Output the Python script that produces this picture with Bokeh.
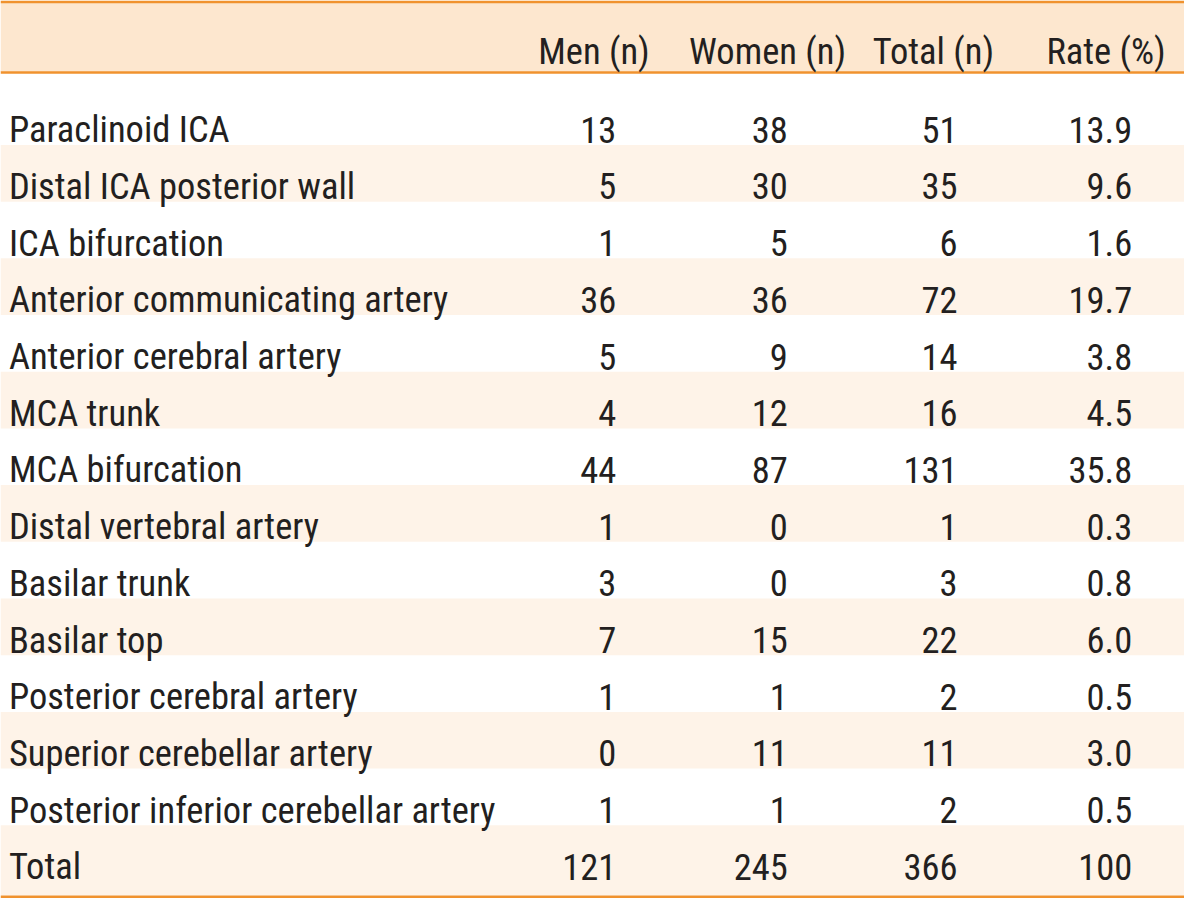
from bokeh.plotting import figure
from bokeh.models import ColumnDataSource, Range1d
from bokeh.embed import file_html
from bokeh.resources import INLINE
from bokeh.core.properties import value

# ---------------- data ----------------
sites = [
    "Paraclinoid ICA",
    "Distal ICA posterior wall",
    "ICA bifurcation",
    "Anterior communicating artery",
    "Anterior cerebral artery",
    "MCA trunk",
    "MCA bifurcation",
    "Distal vertebral artery",
    "Basilar trunk",
    "Basilar top",
    "Posterior cerebral artery",
    "Superior cerebellar artery",
    "Posterior inferior cerebellar artery",
    "Total",
]
men = [13, 5, 1, 36, 5, 4, 44, 1, 3, 7, 1, 0, 1, 121]
women = [38, 30, 5, 36, 9, 12, 87, 0, 0, 15, 1, 11, 1, 245]
total = [51, 35, 6, 72, 14, 16, 131, 1, 3, 22, 2, 11, 2, 366]
rate = [13.9, 9.6, 1.6, 19.7, 3.8, 4.5, 35.8, 0.3, 0.8, 6.0, 0.5, 3.0, 0.5, 100]
headers = ["Men (n)", "Women (n)", "Total (n)", "Rate (%)"]

# ---------------- layout / style ----------------
W, H = 1184, 898
X0, X1 = 0, 1200
Y0, Y1 = 0, 914
FONT = value("Roboto Condensed")
FSIZE = value("36.5px")
TXT = "#231F20"
ORANGE = "#F0922E"
HEAD_BG = "#FDE7CF"
STRIPE = "#FEF3E8"

row_c0 = 118.2
pitch = 57.7
cap_half = 13.4
head_base = 51.5
label_x = 8.5
num_right = [624, 798, 970, 1147]
head_right = [658, 857, 1007, 1181]

p = figure(width=W, height=H, x_range=Range1d(X0, X1), y_range=Range1d(Y1, Y0),
           x_axis_type=None, y_axis_type=None, toolbar_location=None,
           output_backend="svg", min_border=0, outline_line_color=None,
           background_fill_color="white", border_fill_color="white")
p.grid.visible = False

n = len(sites)
centers = [row_c0 + i * pitch for i in range(n)]

# striped rows
sl, sr, st, sb = [], [], [], []
for i in range(n):
    if i % 2 == 1:
        top = centers[i] - pitch / 2
        bot = centers[i] + pitch / 2 if i < n - 1 else 911.0
        sl.append(X0); sr.append(X1); st.append(top); sb.append(bot)
p.quad(left=sl, right=sr, top=st, bottom=sb, fill_color=STRIPE, line_color=None)

# header band
p.quad(left=[X0], right=[X1], top=[2.5], bottom=[72.5], fill_color=HEAD_BG, line_color=None)

# rules
p.quad(left=[X0, X0, X0], right=[X1, X1, X1], top=[0.0, 72.0, 911.0],
       bottom=[2.7, 74.5, 913.7], fill_color=ORANGE, line_color=None)

# header text
hsrc = ColumnDataSource(dict(x=head_right, y=[head_base] * 4, t=headers))
p.text(x="x", y="y", text="t", source=hsrc, text_font=FONT, text_font_size=FSIZE,
       text_align="right", text_baseline="alphabetic", text_color=TXT)

# labels
lsrc = ColumnDataSource(dict(x=[label_x] * n, y=[c + cap_half for c in centers], t=sites))
p.text(x="x", y="y", text="t", source=lsrc, text_font=FONT, text_font_size=FSIZE,
       text_align="left", text_baseline="alphabetic", text_color=TXT)

# numeric columns
def fmt_rate(v):
    return f"{v:.0f}" if v >= 100 else f"{v:.1f}"

cols = [[str(v) for v in men], [str(v) for v in women], [str(v) for v in total],
        [fmt_rate(v) for v in rate]]
xs, ys, ts = [], [], []
for ci, col in enumerate(cols):
    for i, s in enumerate(col):
        xs.append(num_right[ci]); ys.append(centers[i] + cap_half); ts.append(s)
nsrc = ColumnDataSource(dict(x=xs, y=ys, t=ts))
p.text(x="x", y="y", text="t", source=nsrc, text_font=FONT, text_font_size=FSIZE,
       text_align="right", text_baseline="alphabetic", text_color=TXT)

open("out.html", "w").write(file_html(p, INLINE))
